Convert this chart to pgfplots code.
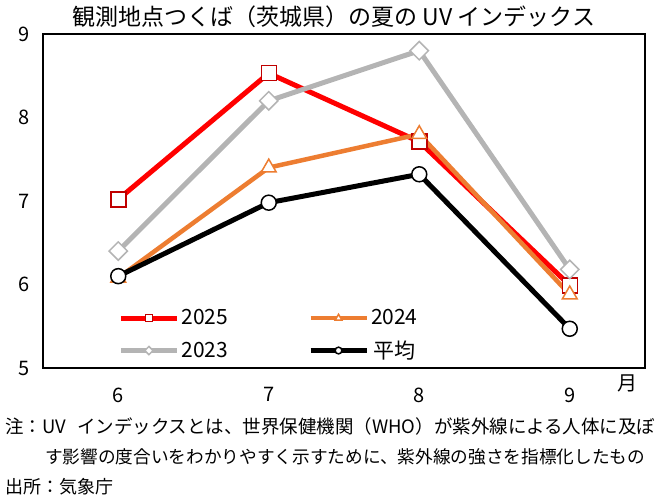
\documentclass[border=0pt]{standalone}
\usepackage{pgfplots}
\pgfplotsset{compat=1.18}
\usepackage{fontspec}
\setmainfont{Noto Sans CJK JP}
\definecolor{c25}{HTML}{FF0000}
\definecolor{c25m}{HTML}{C00000}
\definecolor{c24}{HTML}{ED7D31}
\definecolor{c23}{HTML}{B4B4B4}
\pgfplotstableread{
m v25 v24 v23 avg
6 7.02 6.08 6.40 6.10
7 8.53 7.40 8.20 6.98
8 7.71 7.80 8.80 7.32
9 5.99 5.88 6.18 5.47
}\uvdata
\begin{document}
\begin{tikzpicture}[x=1bp,y=1bp]
\path[use as bounding box] (0,0) rectangle (660,-499);
\begin{axis}[
  at={(43bp,-368bp)}, anchor=south west,
  scale only axis, width=602bp, height=334bp,
  xmin=5.5, xmax=9.5, ymin=5, ymax=9,
  xtick={6,7,8,9}, ytick={5,6,7,8,9},
  tick style={draw=none},
  axis line style={line width=1.3bp},
  ticklabel style={font=\fontsize{20bp}{24bp}\selectfont},
  /pgf/number format/assume math mode=true,
  xticklabel style={yshift=-16bp},
  yticklabel style={xshift=-10bp},
  clip=false,
  legend columns=2,
  legend style={draw=none, fill=none, at={(0.12,0.187)}, anchor=north west,
    font=\fontsize{21bp}{25bp}\selectfont,
    row sep=10.5bp,
    /tikz/every even column/.append style={column sep=78bp}},
  legend image code/.code={\draw[mark repeat=2,mark phase=2,#1,every mark/.append style={scale=0.45}] plot coordinates {(0bp,0bp)(28bp,0bp)(56bp,0bp)};},
]
\addplot[c25, line width=5bp, mark=square*, mark size=7.5bp, mark options={fill=white, draw=c25m, line width=1.5bp}] table[x=m,y=v25] {\uvdata};
\addlegendentry{2025}
\addplot[c24, line width=4.5bp, mark=triangle*, mark size=8.5bp, mark options={fill=white, draw=c24, line width=1.5bp}] table[x=m,y=v24] {\uvdata};
\addlegendentry{2024}
\addplot[c23, line width=5bp, mark=square*, mark size=6.5bp, mark options={rotate=45, fill=white, draw=c23, line width=1.5bp}] table[x=m,y=v23] {\uvdata};
\addlegendentry{2023}
\addplot[black, line width=5bp, mark=*, mark size=7.5bp, mark options={fill=white, draw=black, line width=1.5bp}] table[x=m,y=avg] {\uvdata};
\addlegendentry{平均}
\end{axis}
\node[font=\fontsize{20bp}{24bp}\selectfont] at (627,-383) {月};
\node[font=\fontsize{23bp}{27bp}\selectfont] at (334,-17) {観測地点つくば（茨城県）の夏の UV インデックス};
\node[anchor=west, inner sep=0pt] at (5,-426) {\resizebox{650bp}{!}{\fontsize{18bp}{22bp}\selectfont 注：UV\hspace{0.6em}インデックスとは、世界保健機関（WHO）が紫外線による人体に及ぼ}};
\node[anchor=west, inner sep=0pt] at (45,-457) {\resizebox{600bp}{!}{\fontsize{18bp}{22bp}\selectfont す影響の度合いをわかりやすく示すために、紫外線の強さを指標化したもの}};
\node[anchor=west, inner sep=0pt] at (5,-487) {\fontsize{18bp}{22bp}\selectfont 出所：気象庁};
\end{tikzpicture}
\end{document}
